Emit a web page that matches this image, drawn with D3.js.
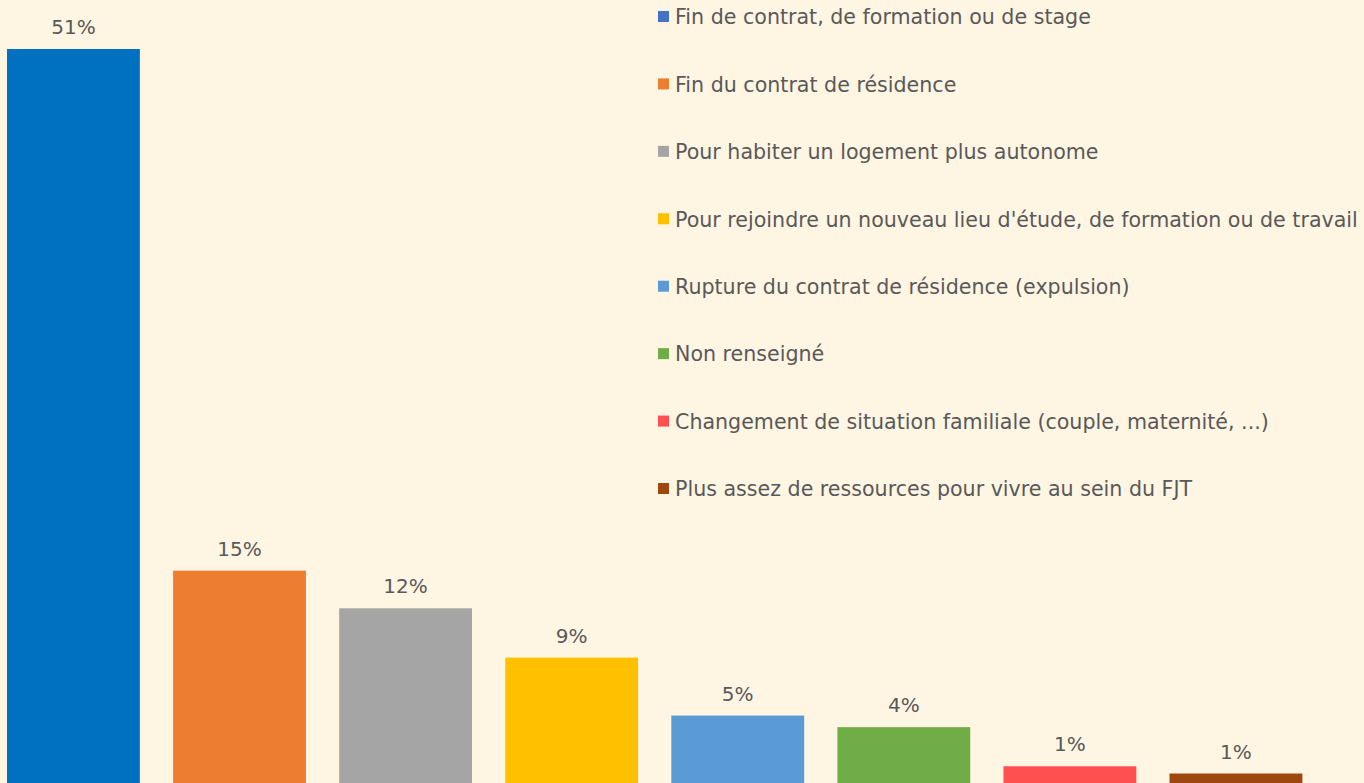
<!DOCTYPE html>
<html>
  <head>
    <title>Motifs de départ</title>
    <meta charset="UTF-8">
    <style>
      body { margin: 0; background: #FFF5E3; overflow: hidden; }
      svg { display: block; font-family: "Century Gothic", "DejaVu Sans", sans-serif; }
    </style>
  </head>
  <body>
    <div id="chart"></div>

    <script src="https://d3js.org/d3.v7.min.js" charset="utf-8"></script>
    <script>

/* DATA */

var categories = [
  "Fin de contrat, de formation ou de stage",
  "Fin du contrat de résidence",
  "Pour habiter un logement plus autonome",
  "Pour rejoindre un nouveau lieu d'étude, de formation ou de travail",
  "Rupture du contrat de résidence (expulsion)",
  "Non renseigné",
  "Changement de situation familiale (couple, maternité, ...)",
  "Plus assez de ressources pour vivre au sein du FJT"
];

// share of departures, in percent (estimated from the bars)
var values = [51, 15, 12.4, 9, 5, 4.2, 1.5, 1.0];

// labels shown above the bars
var labels = ["51%", "15%", "12%", "9%", "5%", "4%", "1%", "1%"];

var barColors = ["#0070C0", "#ED7D31", "#A5A5A5", "#FFC000", "#5B9BD5", "#70AD47", "#FF5050", "#9E480E"];
var legendColors = ["#4472C4", "#ED7D31", "#A5A5A5", "#FFC000", "#5B9BD5", "#70AD47", "#FF5050", "#9E480E"];

var config = {
  "width": 1364,
  "height": 783,
  "textColor": "#595959",
  "labelSize": 20,
  "legendSize": 20.6
}

/* BUILD */

var svg = d3.select("#chart").append("svg")
  .attr("width", config.width)
  .attr("height", config.height);

var x = d3.scaleBand()
  .domain(d3.range(categories.length))
  .range([-9.6, 1319])
  .paddingInner(0.2)
  .paddingOuter(0.1);

var y = d3.scaleLinear()
  .domain([0, 51])
  .range([788, 49]);

// bars
svg.selectAll(".bar")
    .data(values)
  .enter().append("rect")
    .attr("class", "bar")
    .attr("x", (d, i) => x(i))
    .attr("y", (d) => y(d))
    .attr("width", x.bandwidth())
    .attr("height", (d) => y(0) - y(d))
    .style("fill", (d, i) => barColors[i]);

// value labels
svg.selectAll(".label")
    .data(values)
  .enter().append("text")
    .attr("class", "label")
    .attr("x", (d, i) => x(i) + x.bandwidth() / 2)
    .attr("y", (d) => y(d) - 15)
    .attr("text-anchor", "middle")
    .style("font-size", config.labelSize + "px")
    .style("fill", config.textColor)
    .text((d, i) => labels[i]);

// legend
var legendY = d3.scalePoint()
  .domain(d3.range(categories.length))
  .range([17, 489]);

var legend = svg.selectAll(".legend")
    .data(categories)
  .enter().append("g")
    .attr("class", "legend")
    .attr("transform", (d, i) => "translate(658," + legendY(i) + ")");

legend.append("rect")
  .attr("x", 0)
  .attr("y", -6)
  .attr("width", 11)
  .attr("height", 11)
  .style("fill", (d, i) => legendColors[i]);

legend.append("text")
  .attr("x", 17)
  .attr("dy", "0.35em")
  .style("font-size", config.legendSize + "px")
  .style("fill", config.textColor)
  .text((d) => d);

    </script>
  </body>
</html>
